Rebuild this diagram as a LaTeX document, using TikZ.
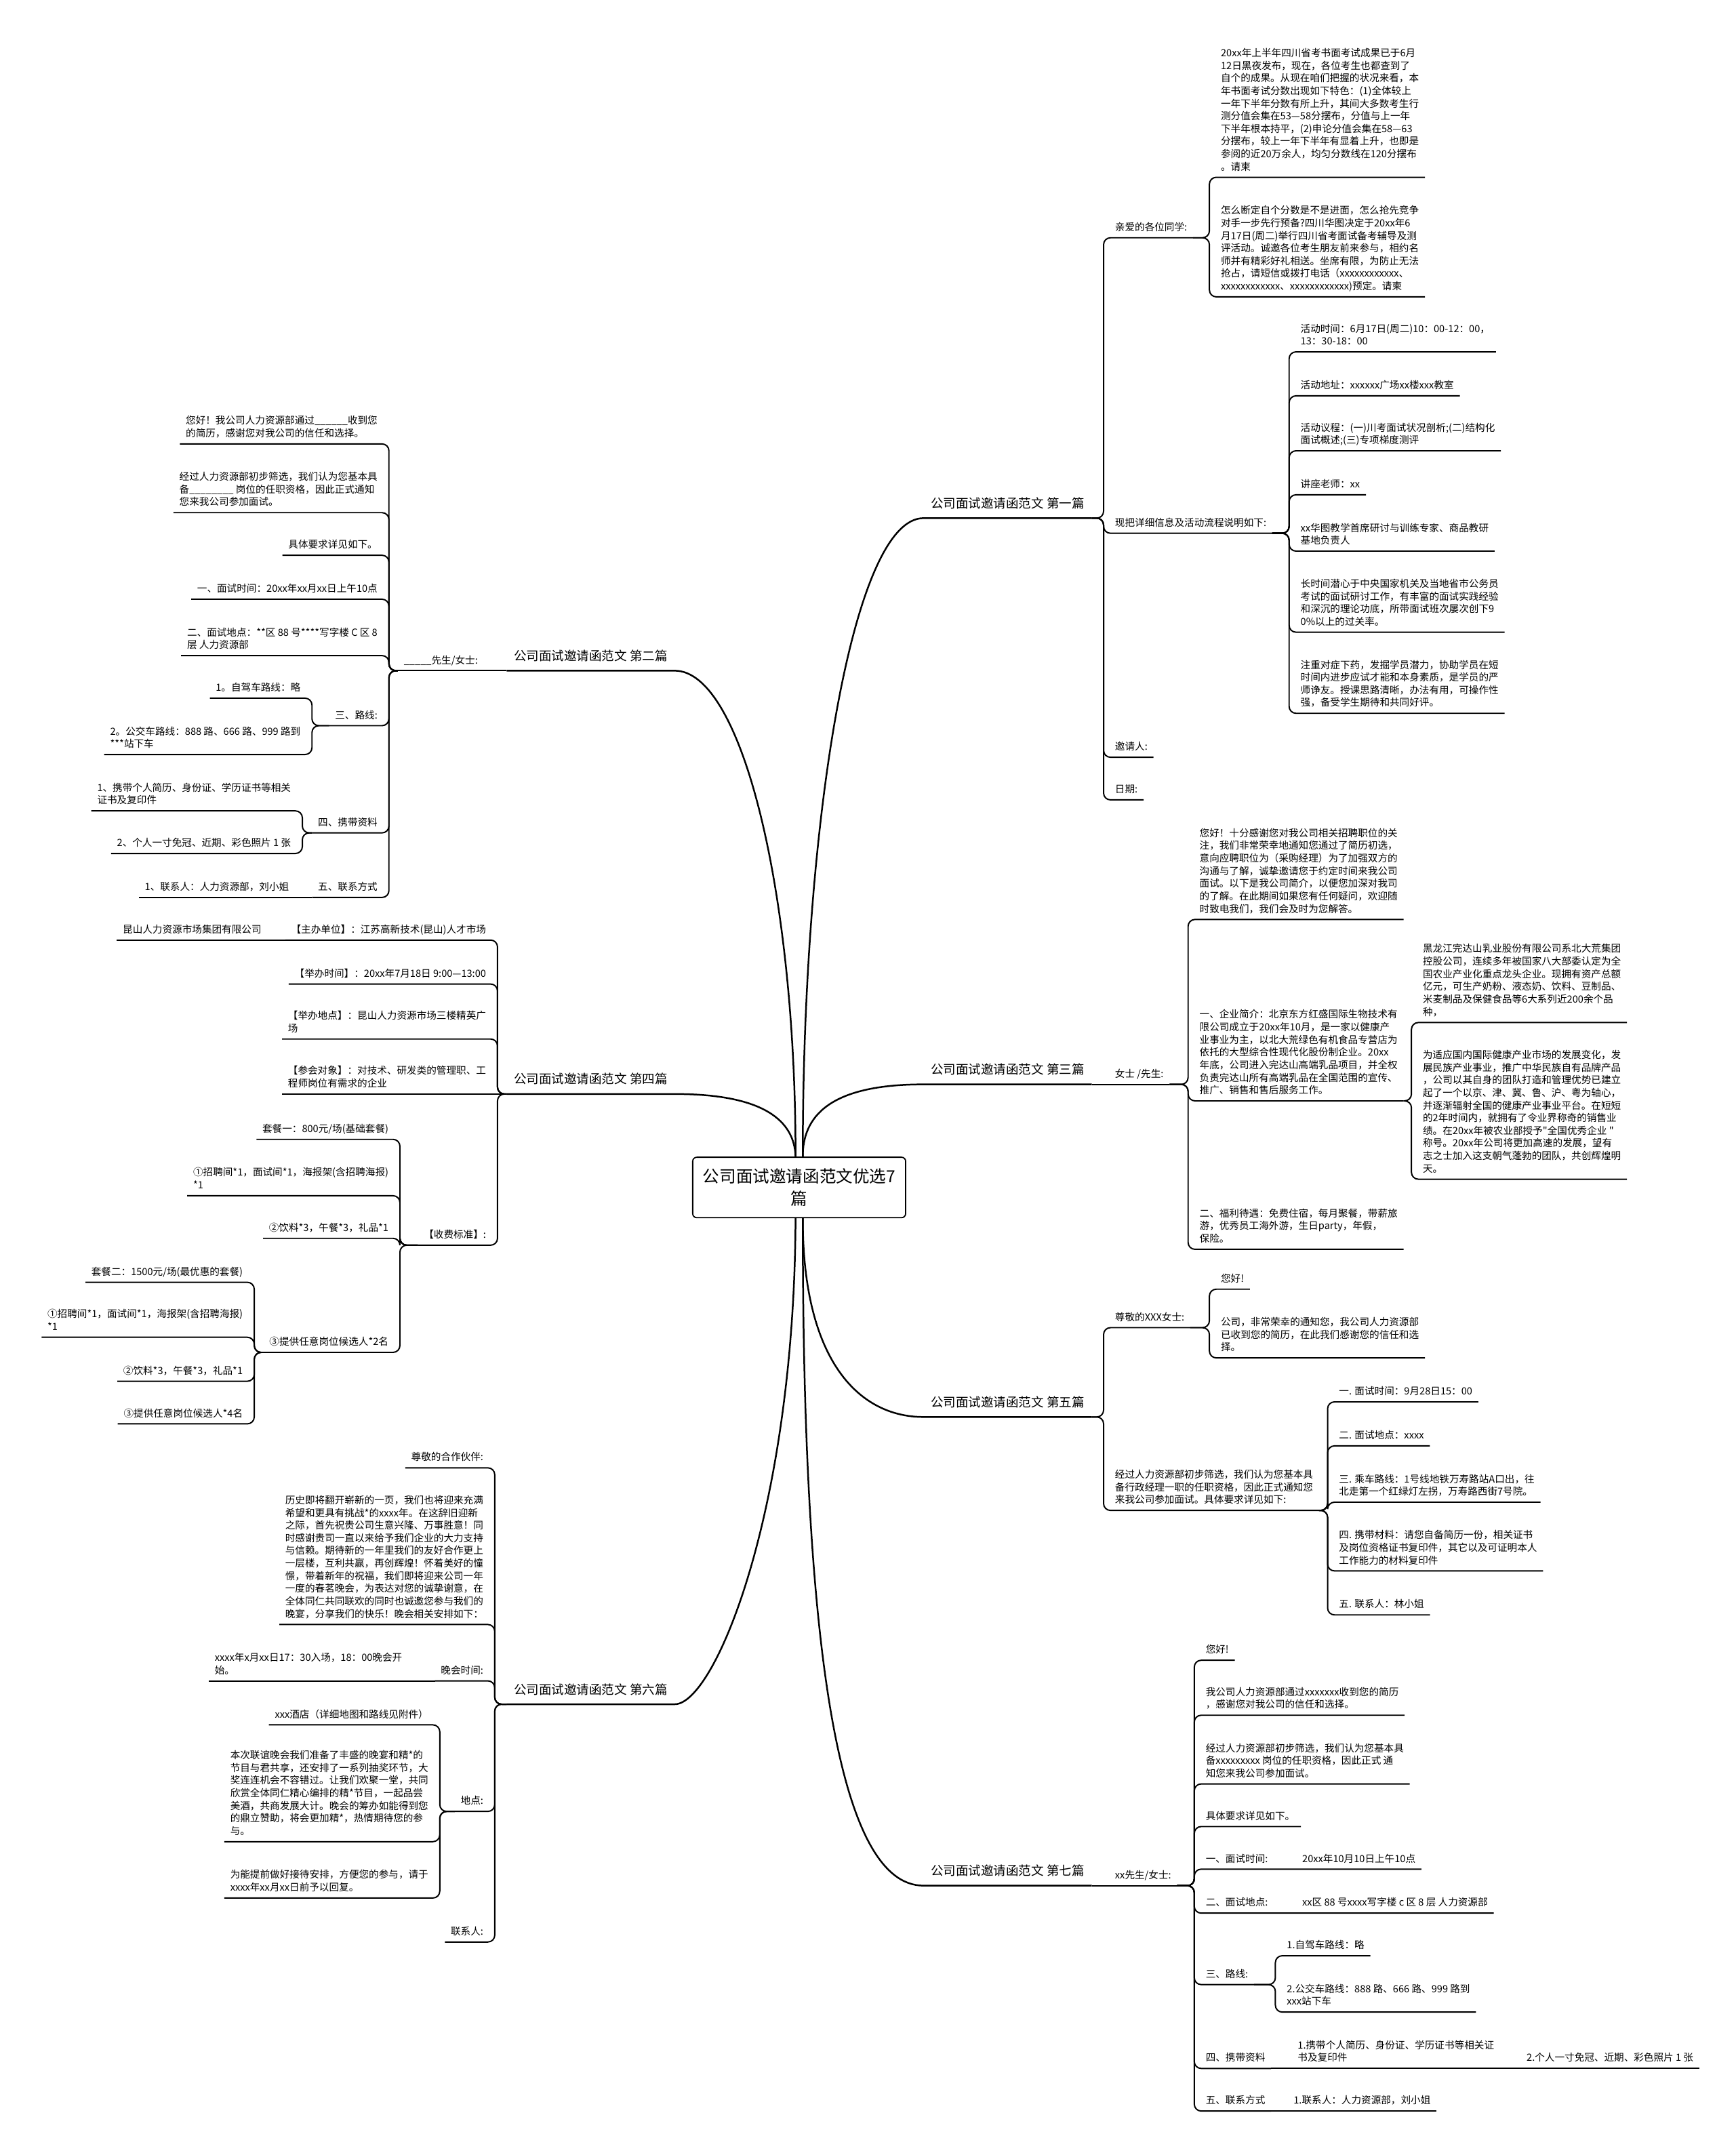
\documentclass[tikz,border=0pt]{standalone}
\usepackage{fontspec}
\newfontfamily\cjk{Noto Sans CJK SC}
\usetikzlibrary{positioning}
\newcommand\leafsize{\cjk\fontsize{4.1}{5.23}\selectfont}
\newcommand\topicsize{\cjk\fontsize{5.2}{6.5}\selectfont}
\newcommand\rootsize{\cjk\fontsize{6.9}{9.4}\selectfont}
\tikzset{
  leaf/.style={font=\leafsize, align=left, inner xsep=0.08cm, inner ysep=0.5pt,
    execute at end node={\vrule width 0pt height 0pt depth 2.2pt}},
  lr/.style={leaf, anchor=south west},
  ll/.style={leaf, anchor=south east},
  topic/.style={font=\topicsize, inner xsep=0.1cm, inner ysep=0.5pt,
    execute at end node={\vrule width 0pt height 0pt depth 3.5pt}},
  tr/.style={topic, anchor=south west},
  tl/.style={topic, anchor=south east},
  root/.style={draw, rounded corners=0.06cm, line width=0.5pt, font=\rootsize,
    align=center, minimum width=3.1cm, minimum height=0.88cm, inner sep=0pt},
  link/.style={line width=0.55pt, rounded corners=0.1cm},
  trunk/.style={line width=0.7pt},
}

\begin{document}
\begin{tikzpicture}[x=0.02cm, y=-0.02cm]
\fill[white] (0,0) rectangle (1263,1568);

\node[root] (root) at (581.5,864) {公司面试邀请函范文优选7\\篇};

% branches
\node[tr] (b1) at (672,377) {公司面试邀请函范文 第一篇};
\node[tl] (b2) at (491,488) {公司面试邀请函范文 第二篇};
\node[tr] (b3) at (672,789) {公司面试邀请函范文 第三篇};
\node[tl] (b4) at (491,796) {公司面试邀请函范文 第四篇};
\node[tr] (b5) at (672,1031) {公司面试邀请函范文 第五篇};
\node[tl] (b6) at (491,1240) {公司面试邀请函范文 第六篇};
\node[tr] (b7) at (672,1372) {公司面试邀请函范文 第七篇};

\draw[trunk] ([xshift=1.5pt]root.north) .. controls (584,600) and (620,377) .. (b1.south west) -- (b1.south east);
\draw[trunk] ([xshift=-1.5pt]root.north) .. controls (579,650) and (540,488) .. (b2.south east) -- (b2.south west);
\draw[trunk] ([xshift=1.5pt]root.north) .. controls (584,808) and (610,789) .. (b3.south west) -- (b3.south east);
\draw[trunk] ([xshift=-1.5pt]root.north) .. controls (578,815) and (555,796) .. (b4.south east) -- (b4.south west);
\draw[trunk] ([xshift=1.5pt]root.south) .. controls (584,990) and (625,1031) .. (b5.south west) -- (b5.south east);
\draw[trunk] ([xshift=-1.5pt]root.south) .. controls (578,1100) and (520,1240) .. (b6.south east) -- (b6.south west);
\draw[trunk] ([xshift=1.5pt]root.south) .. controls (584,1200) and (610,1372) .. (b7.south west) -- (b7.south east);

% first
\node[lr] (b1a) at (807,173) {亲爱的各位同学:};
\node[lr] (b1a1) at (884,129) {20xx年上半年四川省考书面考试成果已于6月\\12日黑夜发布，现在，各位考生也都查到了\\自个的成果。从现在咱们把握的状况来看，本\\年书面考试分数出现如下特色：(1)全体较上\\一年下半年分数有所上升，其间大多数考生行\\测分值会集在53—58分摆布，分值与上一年\\下半年根本持平，(2)申论分值会集在58—63\\分摆布，较上一年下半年有显着上升，也即是\\参阅的近20万余人，均匀分数线在120分摆布\\。请柬};
\node[lr] (b1a2) at (884,216) {怎么断定自个分数是不是进面，怎么抢先竞争\\对手一步先行预备?四川华图决定于20xx年6\\月17日(周二)举行四川省考面试备考辅导及测\\评活动。诚邀各位考生朋友前来参与，相约名\\师并有精彩好礼相送。坐席有限，为防止无法\\抢占，请短信或拨打电话（xxxxxxxxxxxx、\\xxxxxxxxxxxx、xxxxxxxxxxxx)预定。请柬};
\node[lr] (b1b) at (807,388) {现把详细信息及活动流程说明如下:};
\node[lr] (b1b1) at (942,256) {活动时间：6月17日(周二)10：00-12：00，\\13：30-18：00};
\node[lr] (b1b2) at (942,288) {活动地址：xxxxxx广场xx楼xxx教室};
\node[lr] (b1b3) at (942,328) {活动议程：(一)川考面试状况剖析;(二)结构化\\面试概述;(三)专项梯度测评};
\node[lr] (b1b4) at (942,360) {讲座老师：xx};
\node[lr] (b1b5) at (942,401) {xx华图教学首席研讨与训练专家、商品教研\\基地负责人};
\node[lr] (b1b6) at (942,460) {长时间潜心于中央国家机关及当地省市公务员\\考试的面试研讨工作，有丰富的面试实践经验\\和深沉的理论功底，所带面试班次屡次创下9\\0\%以上的过关率。};
\node[lr] (b1b7) at (942,519) {注重对症下药，发掘学员潜力，协助学员在短\\时间内进步应试才能和本身素质，是学员的严\\师诤友。授课思路清晰，办法有用，可操作性\\强，备受学生期待和共同好评。};
\node[lr] (b1c) at (807,551) {邀请人:};
\node[lr] (b1d) at (807,582) {日期:};

% third
\node[lr] (b3a) at (807,789) {女士 /先生:};
\node[lr] (b3a1) at (868.5,669) {您好！十分感谢您对我公司相关招聘职位的关\\注，我们非常荣幸地通知您通过了简历初选，\\意向应聘职位为（采购经理）为了加强双方的\\沟通与了解，诚挚邀请您于约定时间来我公司\\面试。以下是我公司简介，以便您加深对我司\\的了解。在此期间如果您有任何疑问，欢迎随\\时致电我们，我们会及时为您解答。};
\node[lr] (b3a2) at (868.5,801) {一、企业简介：北京东方红盛国际生物技术有\\限公司成立于20xx年10月，是一家以健康产\\业事业为主，以北大荒绿色有机食品专营店为\\依托的大型综合性现代化股份制企业。20xx\\年底，公司进入完达山高端乳品项目，并全权\\负责完达山所有高端乳品在全国范围的宣传、\\推广、销售和售后服务工作。};
\node[lr] (b3a21) at (1031,744) {黑龙江完达山乳业股份有限公司系北大荒集团\\控股公司，连续多年被国家八大部委认定为全\\国农业产业化重点龙头企业。现拥有资产总额\\亿元，可生产奶粉、液态奶、饮料、豆制品、\\米麦制品及保健食品等6大系列近200余个品\\种，};
\node[lr] (b3a22) at (1031,858) {为适应国内国际健康产业市场的发展变化，发\\展民族产业事业，推广中华民族自有品牌产品\\，公司以其自身的团队打造和管理优势已建立\\起了一个以京、津、冀、鲁、沪、粤为轴心，\\并逐渐辐射全国的健康产业事业平台。在短短\\的2年时间内，就拥有了令业界称奇的销售业\\绩。在20xx年被农业部授予"全国优秀企业 "\\称号。20xx年公司将更加高速的发展，望有\\志之士加入这支朝气蓬勃的团队，共创辉煌明\\天。};
\node[lr] (b3a3) at (868.5,909) {二、福利待遇：免费住宿，每月聚餐，带薪旅\\游，优秀员工海外游，生日party，年假，\\保险。};

% fifth
\node[lr] (b5a) at (807,966) {尊敬的XXX女士:};
\node[lr] (b5a1) at (884,938) {您好!};
\node[lr] (b5a2) at (884,988) {公司，非常荣幸的通知您，我公司人力资源部\\已收到您的简历，在此我们感谢您的信任和选\\择。};
\node[lr] (b5b) at (807,1099) {经过人力资源部初步筛选，我们认为您基本具\\备行政经理一职的任职资格，因此正式通知您\\来我公司参加面试。具体要求详见如下:};
\node[lr] (b5b1) at (970,1020) {一. 面试时间：9月28日15：00};
\node[lr] (b5b2) at (970,1052) {二. 面试地点：xxxx};
\node[lr] (b5b3) at (970,1093) {三. 乘车路线：1号线地铁万寿路站A口出，往\\北走第一个红绿灯左拐，万寿路西街7号院。};
\node[lr] (b5b4) at (970,1143) {四. 携带材料：请您自备简历一份，相关证书\\及岗位资格证书复印件，其它以及可证明本人\\工作能力的材料复印件};
\node[lr] (b5b5) at (970,1175) {五. 联系人：林小姐};

% seventh
\node[lr] (b7a) at (807,1372) {xx先生/女士:};
\node[lr] (b7a1) at (873,1208) {您好!};
\node[lr] (b7a2) at (873,1248) {我公司人力资源部通过xxxxxxx收到您的简历\\，感谢您对我公司的信任和选择。};
\node[lr] (b7a3) at (873,1298) {经过人力资源部初步筛选，我们认为您基本具\\备xxxxxxxxx 岗位的任职资格，因此正式 通\\知您来我公司参加面试。};
\node[lr] (b7a4) at (873,1329) {具体要求详见如下。};
\node[lr] (b7a5) at (873,1360) {一、面试时间:\hspace{0.5cm}20xx年10月10日上午10点};
\node[lr] (b7a6) at (873,1392) {二、面试地点:\hspace{0.5cm}xx区 88 号xxxx写字楼 c 区 8 层 人力资源部};
\node[lr] (b7a7) at (873,1444) {三、路线:};
\node[lr] (b7a71) at (932,1423) {1.自驾车路线：略};
\node[lr] (b7a72) at (932,1464) {2.公交车路线：888 路、666 路、999 路到\\xxx站下车};
\node[lr] (b7a8) at (873,1505) {四、携带资料};
\node[lr, right=0.3cm of b7a8.south east, anchor=south west] (b7a81) {1.携带个人简历、身份证、学历证书等相关证\\书及复印件};
\node[lr, right=0.3cm of b7a81.south east, anchor=south west] (b7a82) {2.个人一寸免冠、近期、彩色照片 1 张};
\node[lr] (b7a9) at (873,1536) {五、联系方式};
\node[lr, right=0.24cm of b7a9.south east, anchor=south west] (b7a91) {1.联系人：人力资源部，刘小姐};

% second
\node[ll] (b2a) at (352,488) {\_\_\_\_\_先生/女士:};
\node[ll] (b2a1) at (279,323) {您好！我公司人力资源部通过\_\_\_\_\_\_收到您\\的简历，感谢您对我公司的信任和选择。};
\node[ll] (b2a2) at (279,373) {经过人力资源部初步筛选，我们认为您基本具\\备\_\_\_\_\_\_\_\_ 岗位的任职资格，因此正式通知\\您来我公司参加面试。};
\node[ll] (b2a3) at (279,404) {具体要求详见如下。};
\node[ll] (b2a4) at (279,436) {一、面试时间：20xx年xx月xx日上午10点};
\node[ll] (b2a5) at (279,477) {二、面试地点：**区 88 号****写字楼 C 区 8\\层 人力资源部};
\node[ll] (b2a6) at (279,528) {三、路线:};
\node[ll] (b2a61) at (223,508) {1。自驾车路线：略};
\node[ll] (b2a62) at (223,549) {2。公交车路线：888 路、666 路、999 路到\\***站下车};
\node[ll] (b2a7) at (279,606) {四、携带资料};
\node[ll] (b2a71) at (216,590) {1、携带个人简历、身份证、学历证书等相关\\证书及复印件};
\node[ll] (b2a72) at (216,621) {2、个人一寸免冠、近期、彩色照片 1 张};
\node[ll] (b2a8) at (279,653) {五、联系方式};
\node[ll, left=0.25cm of b2a8.south west, anchor=south east] (b2a81) {1、联系人：人力资源部，刘小姐};

% fourth
\node[ll] (b4a) at (358,684) {【主办单位】：江苏高新技术(昆山)人才市场};
\node[ll, left=0.26cm of b4a.south west, anchor=south east] (b4a1) {昆山人力资源市场集团有限公司};
\node[ll] (b4b) at (358,716) {【举办时间】：20xx年7月18日 9:00—13:00};
\node[ll] (b4c) at (358,756) {【举办地点】：昆山人力资源市场三楼精英广\\场};
\node[ll] (b4d) at (358,796) {【参会对象】：对技术、研发类的管理职、工\\程师岗位有需求的企业};
\node[ll] (b4e) at (358,906) {【收费标准】:};
\node[ll] (b4e1) at (287,829) {套餐一：800元/场(基础套餐)};
\node[ll] (b4e2) at (287,870) {①招聘间*1，面试间*1，海报架(含招聘海报)\\*1};
\node[ll] (b4e3) at (287,901) {②饮料*3，午餐*3，礼品*1};
\node[ll] (b4e4) at (287,984) {③提供任意岗位候选人*2名};
\node[ll] (b4e41) at (181,933) {套餐二：1500元/场(最优惠的套餐)};
\node[ll] (b4e42) at (181,973) {①招聘间*1，面试间*1，海报架(含招聘海报)\\*1};
\node[ll] (b4e43) at (181,1005) {②饮料*3，午餐*3，礼品*1};
\node[ll] (b4e44) at (181,1036) {③提供任意岗位候选人*4名};

% sixth
\node[ll] (b6a) at (356,1068) {尊敬的合作伙伴:};
\node[ll] (b6b) at (356,1182) {历史即将翻开崭新的一页，我们也将迎来充满\\希望和更具有挑战*的xxxx年。在这辞旧迎新\\之际，首先祝贵公司生意兴隆、万事胜意！同\\时感谢贵司一直以来给予我们企业的大力支持\\与信赖。期待新的一年里我们的友好合作更上\\一层楼，互利共赢，再创辉煌！怀着美好的憧\\憬，带着新年的祝福，我们即将迎来公司一年\\一度的春茗晚会，为表达对您的诚挚谢意，在\\全体同仁共同联欢的同时也诚邀您参与我们的\\晚宴，分享我们的快乐！晚会相关安排如下：};
\node[ll] (b6c) at (356,1223) {晚会时间:};
\node[ll, left=0.39cm of b6c.south west, anchor=south east] (b6c1) {xxxx年x月xx日17：30入场，18：00晚会开\\始。};
\node[ll] (b6d) at (356,1318) {地点:};
\node[ll] (b6d1) at (316,1255) {xxx酒店（详细地图和路线见附件）};
\node[ll] (b6d2) at (316,1340) {本次联谊晚会我们准备了丰盛的晚宴和精*的\\节目与君共享，还安排了一系列抽奖环节，大\\奖连连机会不容错过。让我们欢聚一堂，共同\\欣赏全体同仁精心编排的精*节目，一起品尝\\美酒，共商发展大计。晚会的筹办如能得到您\\的鼎立赞助，将会更加精*，热情期待您的参\\与。};
\node[ll] (b6d3) at (316,1381) {为能提前做好接待安排，方便您的参与，请于\\xxxx年xx月xx日前予以回复。};
\node[ll] (b6e) at (356,1413) {联系人:};

% connectors, right side
\foreach \p/\c in {b1/b1a, b1/b1b, b1/b1c, b1/b1d, b1a/b1a1, b1a/b1a2,
    b1b/b1b1, b1b/b1b2, b1b/b1b3, b1b/b1b4, b1b/b1b5, b1b/b1b6, b1b/b1b7,
    b3a/b3a1, b3a/b3a2, b3a/b3a3, b3a2/b3a21, b3a2/b3a22,
    b5/b5a, b5/b5b, b5a/b5a1, b5a/b5a2, b5b/b5b1, b5b/b5b2, b5b/b5b3, b5b/b5b4, b5b/b5b5,
    b7a/b7a1, b7a/b7a2, b7a/b7a3, b7a/b7a4, b7a/b7a5, b7a/b7a6, b7a/b7a7, b7a/b7a8, b7a/b7a9,
    b7a7/b7a71, b7a7/b7a72}
  \draw[link] (\p.south east) -| ([xshift=-0.08cm]\c.south west) -- (\c.south east);
\foreach \p/\c in {b3/b3a, b7/b7a, b7a8/b7a81, b7a81/b7a82, b7a9/b7a91}
  \draw[link] (\p.south east) -- (\c.south west) -- (\c.south east);

% connectors, left side
\foreach \p/\c in {b2a/b2a1, b2a/b2a2, b2a/b2a3, b2a/b2a4, b2a/b2a5, b2a/b2a6, b2a/b2a7, b2a/b2a8,
    b2a6/b2a61, b2a6/b2a62, b2a7/b2a71, b2a7/b2a72,
    b4/b4a, b4/b4b, b4/b4c, b4/b4e, b4e/b4e1, b4e/b4e2, b4e/b4e3, b4e/b4e4,
    b4e4/b4e41, b4e4/b4e42, b4e4/b4e43, b4e4/b4e44,
    b6/b6a, b6/b6b, b6/b6c, b6/b6d, b6/b6e, b6d/b6d1, b6d/b6d2, b6d/b6d3}
  \draw[link] (\p.south west) -| ([xshift=0.08cm]\c.south east) -- (\c.south west);
\foreach \p/\c in {b2/b2a, b2a8/b2a81, b4a/b4a1, b4/b4d, b6c/b6c1}
  \draw[link] (\p.south west) -- (\c.south east) -- (\c.south west);
\end{tikzpicture}
\end{document}
